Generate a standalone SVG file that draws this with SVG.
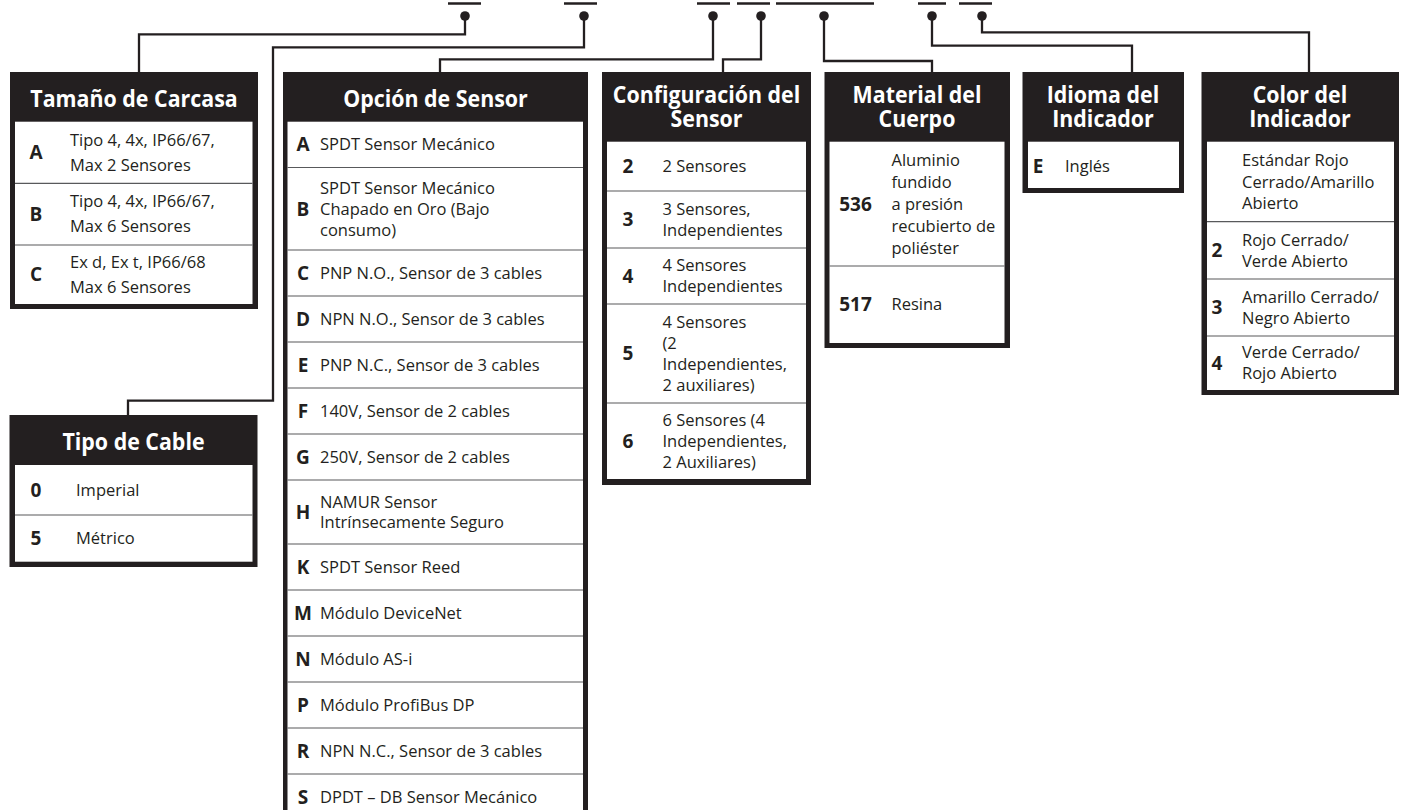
<svg xmlns="http://www.w3.org/2000/svg" width="1405" height="810" viewBox="0 0 1405 810">
<style>
.box{fill:#231f20}
.cell{fill:#ffffff}
.sep{stroke:#58595b;stroke-width:1.2}
.hd{font-family:"Open Sans","Noto Sans",sans-serif;font-weight:700;font-size:23px;fill:#ffffff;text-anchor:middle}
.cd{font-family:"Open Sans","Noto Sans",sans-serif;font-weight:700;font-size:19px;fill:#231f20;text-anchor:middle}
.tx{font-family:"Open Sans","Noto Sans",sans-serif;font-weight:400;font-size:16.5px;fill:#231f20}
.ln{fill:none;stroke:#231f20;stroke-width:2.3}
.bar{stroke:#231f20;stroke-width:2.5}
.dot{fill:#231f20}
</style>
<rect width="1405" height="810" fill="#ffffff"/>
<g id="connectors">
<line class="bar" x1="448" y1="3.5" x2="481" y2="3.5"/>
<line class="bar" x1="564" y1="3.5" x2="597" y2="3.5"/>
<line class="bar" x1="697" y1="3.5" x2="730" y2="3.5"/>
<line class="bar" x1="737" y1="3.5" x2="770" y2="3.5"/>
<line class="bar" x1="776" y1="3.5" x2="874" y2="3.5"/>
<line class="bar" x1="918" y1="3.5" x2="946" y2="3.5"/>
<line class="bar" x1="959" y1="3.5" x2="992" y2="3.5"/>
<circle class="dot" cx="465" cy="16" r="4.8"/>
<circle class="dot" cx="584" cy="16" r="4.8"/>
<circle class="dot" cx="713" cy="16" r="4.8"/>
<circle class="dot" cx="761" cy="16" r="4.8"/>
<circle class="dot" cx="824" cy="16" r="4.8"/>
<circle class="dot" cx="932" cy="16" r="4.8"/>
<circle class="dot" cx="982" cy="16" r="4.8"/>
<path class="ln" d="M465,16 V34.3 H139 V72"/>
<path class="ln" d="M584,16 V47.3 H273 V400.7 H128 V415"/>
<path class="ln" d="M713,16 V59.3 H440 V72"/>
<path class="ln" d="M761,16 V59.3 H723 V72"/>
<path class="ln" d="M824,16 V61 H932 V72"/>
<path class="ln" d="M932,16 V45.7 H1132 V72"/>
<path class="ln" d="M982,16 V32.3 H1309 V72"/>
</g>
<g id="tamano-carcasa">
<rect class="box" x="10" y="72" width="248" height="237"/>
<rect class="cell" x="15" y="121.7" width="237.5" height="182.3"/>
<line class="sep" x1="15" y1="183.3" x2="252.5" y2="183.3"/>
<line class="sep" x1="15" y1="245" x2="252.5" y2="245"/>
<text class="hd" transform="scale(0.93,1)" x="144.09" y="107">Tamaño de Carcasa</text>
<text class="cd" x="36" y="159.3">A</text>
<text class="tx" x="70" y="145.5">Tipo 4, 4x, IP66/67,</text>
<text class="tx" x="70" y="170.5">Max 2 Sensores</text>
<text class="cd" x="36" y="221">B</text>
<text class="tx" x="70" y="207.2">Tipo 4, 4x, IP66/67,</text>
<text class="tx" x="70" y="232.2">Max 6 Sensores</text>
<text class="cd" x="36" y="281.3">C</text>
<text class="tx" x="70" y="267.5">Ex d, Ex t, IP66/68</text>
<text class="tx" x="70" y="292.5">Max 6 Sensores</text>
</g>
<g id="tipo-cable">
<rect class="box" x="9.5" y="415" width="248" height="152"/>
<rect class="cell" x="15" y="465" width="237.5" height="96.7"/>
<line class="sep" x1="15" y1="515" x2="252.5" y2="515"/>
<text class="hd" transform="scale(0.93,1)" x="143.55" y="450">Tipo de Cable</text>
<text class="cd" x="36" y="496.8">0</text>
<text class="tx" x="76" y="495.9">Imperial</text>
<text class="cd" x="36" y="545.1">5</text>
<text class="tx" x="76" y="544.2">Métrico</text>
</g>
<g id="opcion-sensor">
<rect class="box" x="283" y="72" width="305" height="760"/>
<rect class="cell" x="287.5" y="121.7" width="295.5" height="710"/>
<line class="sep" x1="287.5" y1="167.5" x2="583" y2="167.5"/>
<line class="sep" x1="287.5" y1="250" x2="583" y2="250"/>
<line class="sep" x1="287.5" y1="296" x2="583" y2="296"/>
<line class="sep" x1="287.5" y1="342" x2="583" y2="342"/>
<line class="sep" x1="287.5" y1="388" x2="583" y2="388"/>
<line class="sep" x1="287.5" y1="434" x2="583" y2="434"/>
<line class="sep" x1="287.5" y1="480" x2="583" y2="480"/>
<line class="sep" x1="287.5" y1="544" x2="583" y2="544"/>
<line class="sep" x1="287.5" y1="590" x2="583" y2="590"/>
<line class="sep" x1="287.5" y1="636" x2="583" y2="636"/>
<line class="sep" x1="287.5" y1="682" x2="583" y2="682"/>
<line class="sep" x1="287.5" y1="728" x2="583" y2="728"/>
<line class="sep" x1="287.5" y1="774" x2="583" y2="774"/>
<text class="hd" transform="scale(0.93,1)" x="468.28" y="107">Opción de Sensor</text>
<text class="cd" x="303" y="151.3">A</text>
<text class="tx" x="320" y="150.4">SPDT Sensor Mecánico</text>
<text class="cd" x="303" y="215.5">B</text>
<text class="tx" x="320" y="193.6">SPDT Sensor Mecánico<tspan x="320" dy="21">Chapado en Oro (Bajo</tspan><tspan x="320" dy="21">consumo)</tspan></text>
<text class="cd" x="303" y="279.8">C</text>
<text class="tx" x="320" y="278.9">PNP N.O., Sensor de 3 cables</text>
<text class="cd" x="303" y="325.8">D</text>
<text class="tx" x="320" y="324.9">NPN N.O., Sensor de 3 cables</text>
<text class="cd" x="303" y="371.8">E</text>
<text class="tx" x="320" y="370.9">PNP N.C., Sensor de 3 cables</text>
<text class="cd" x="303" y="417.8">F</text>
<text class="tx" x="320" y="416.9">140V, Sensor de 2 cables</text>
<text class="cd" x="303" y="463.8">G</text>
<text class="tx" x="320" y="462.9">250V, Sensor de 2 cables</text>
<text class="cd" x="303" y="518.8">H</text>
<text class="tx" x="320" y="507.9">NAMUR Sensor<tspan x="320" dy="20">Intrínsecamente Seguro</tspan></text>
<text class="cd" x="303" y="573.8">K</text>
<text class="tx" x="320" y="572.9">SPDT Sensor Reed</text>
<text class="cd" x="303" y="619.8">M</text>
<text class="tx" x="320" y="618.9">Módulo DeviceNet</text>
<text class="cd" x="303" y="665.8">N</text>
<text class="tx" x="320" y="664.9">Módulo AS-i</text>
<text class="cd" x="303" y="711.8">P</text>
<text class="tx" x="320" y="710.9">Módulo ProfiBus DP</text>
<text class="cd" x="303" y="757.8">R</text>
<text class="tx" x="320" y="756.9">NPN N.C., Sensor de 3 cables</text>
<text class="cd" x="303" y="803.8">S</text>
<text class="tx" x="320" y="802.9">DPDT – DB Sensor Mecánico</text>
</g>
<g id="configuracion-sensor">
<rect class="box" x="602" y="72" width="209" height="413"/>
<rect class="cell" x="607" y="141.7" width="199" height="337.3"/>
<line class="sep" x1="607" y1="191" x2="806" y2="191"/>
<line class="sep" x1="607" y1="248" x2="806" y2="248"/>
<line class="sep" x1="607" y1="304" x2="806" y2="304"/>
<line class="sep" x1="607" y1="403" x2="806" y2="403"/>
<text class="hd" transform="scale(0.93,1)" x="759.68" y="103">Configuración del<tspan x="759.68" dy="24.5">Sensor</tspan></text>
<text class="cd" x="628" y="173.1">2</text>
<text class="tx" x="662.5" y="172.2">2 Sensores</text>
<text class="cd" x="628" y="226.3">3</text>
<text class="tx" x="662.5" y="214.9">3 Sensores,<tspan x="662.5" dy="21">Independientes</tspan></text>
<text class="cd" x="628" y="282.8">4</text>
<text class="tx" x="662.5" y="271.4">4 Sensores<tspan x="662.5" dy="21">Independientes</tspan></text>
<text class="cd" x="628" y="360.3">5</text>
<text class="tx" x="662.5" y="327.9">4 Sensores<tspan x="662.5" dy="21">(2</tspan><tspan x="662.5" dy="21">Independientes,</tspan><tspan x="662.5" dy="21">2 auxiliares)</tspan></text>
<text class="cd" x="628" y="447.8">6</text>
<text class="tx" x="662.5" y="425.9">6 Sensores (4<tspan x="662.5" dy="21">Independientes,</tspan><tspan x="662.5" dy="21">2 Auxiliares)</tspan></text>
</g>
<g id="material-cuerpo">
<rect class="box" x="824.5" y="72" width="185.5" height="276"/>
<rect class="cell" x="829.5" y="141.7" width="175" height="201.3"/>
<line class="sep" x1="829.5" y1="266" x2="1004.5" y2="266"/>
<text class="hd" transform="scale(0.93,1)" x="986.02" y="103">Material del<tspan x="986.02" dy="24.5">Cuerpo</tspan></text>
<text class="cd" x="855.5" y="210.8">536</text>
<text class="tx" x="891.5" y="165.9">Aluminio<tspan x="891.5" dy="22">fundido</tspan><tspan x="891.5" dy="22">a presión</tspan><tspan x="891.5" dy="22">recubierto de</tspan><tspan x="891.5" dy="22">poliéster</tspan></text>
<text class="cd" x="855.5" y="311.3">517</text>
<text class="tx" x="891.5" y="310.4">Resina</text>
</g>
<g id="idioma-indicador">
<rect class="box" x="1022.5" y="72" width="161.5" height="121"/>
<rect class="cell" x="1028" y="141.7" width="151" height="46.3"/>
<text class="hd" transform="scale(0.93,1)" x="1186.02" y="103">Idioma del<tspan x="1186.02" dy="24.5">Indicador</tspan></text>
<text class="cd" x="1038" y="172.6">E</text>
<text class="tx" x="1065" y="171.7">Inglés</text>
</g>
<g id="color-indicador">
<rect class="box" x="1201.5" y="72" width="197.5" height="323"/>
<rect class="cell" x="1207" y="141.7" width="187" height="248.3"/>
<line class="sep" x1="1207" y1="221.7" x2="1394" y2="221.7"/>
<line class="sep" x1="1207" y1="279" x2="1394" y2="279"/>
<line class="sep" x1="1207" y1="336" x2="1394" y2="336"/>
<text class="hd" transform="scale(0.93,1)" x="1397.85" y="103">Color del<tspan x="1397.85" dy="24.5">Indicador</tspan></text>
<text class="tx" x="1242" y="166.1">Estándar Rojo<tspan x="1242" dy="21.5">Cerrado/Amarillo</tspan><tspan x="1242" dy="21.5">Abierto</tspan></text>
<text class="cd" x="1217" y="257.1">2</text>
<text class="tx" x="1242" y="245.7">Rojo Cerrado/<tspan x="1242" dy="21">Verde Abierto</tspan></text>
<text class="cd" x="1217" y="314.3">3</text>
<text class="tx" x="1242" y="302.9">Amarillo Cerrado/<tspan x="1242" dy="21">Negro Abierto</tspan></text>
<text class="cd" x="1217" y="369.8">4</text>
<text class="tx" x="1242" y="358.4">Verde Cerrado/<tspan x="1242" dy="21">Rojo Abierto</tspan></text>
</g>
</svg>
